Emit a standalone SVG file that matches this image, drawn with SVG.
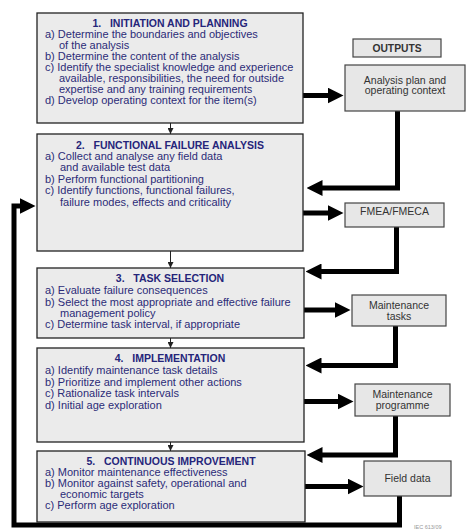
<svg xmlns="http://www.w3.org/2000/svg" width="466" height="529" viewBox="0 0 466 529">
<style>
.step{fill:#ebebeb;stroke:#222;stroke-width:1.3}
.out{fill:#e7e7e7;stroke:#444;stroke-width:1.2}
.hd{font-family:"Liberation Sans",Arial,sans-serif;font-size:10.5px;font-weight:bold;fill:#25257a;text-anchor:middle}
.tx{font-family:"Liberation Sans",Arial,sans-serif;font-size:11px;fill:#2b2b78}
.ot{font-family:"Liberation Sans",Arial,sans-serif;font-size:10.5px;fill:#333;text-anchor:middle}
.big{fill:none;stroke:#000;stroke-width:5;stroke-linejoin:miter}
.thin{fill:none;stroke:#222;stroke-width:1}
</style>
<defs>
<marker id="ah" markerUnits="userSpaceOnUse" markerWidth="16" markerHeight="16" viewBox="0 0 16 16" refX="0.5" refY="8" orient="auto">
<path d="M0,0 L16,8 L0,16 z" fill="#000"/>
</marker>
<marker id="sh" markerUnits="userSpaceOnUse" markerWidth="6" markerHeight="6" viewBox="0 0 6 6" refX="6" refY="3" orient="auto">
<path d="M0,0 L6,3 L0,6 z" fill="#222"/>
</marker>
</defs>

<g id="connectors">
<path class="thin" d="M170.5,123 V134" marker-end="url(#sh)"/>
<path class="thin" d="M170.5,251 V268" marker-end="url(#sh)"/>
<path class="thin" d="M170.5,338 V348" marker-end="url(#sh)"/>
<path class="thin" d="M170.5,442 V451" marker-end="url(#sh)"/>
<path class="big" d="M303,95.5 H328" marker-end="url(#ah)"/>
<path class="big" d="M397.5,111 V188 H322" marker-end="url(#ah)"/>
<path class="big" d="M303,213 H328" marker-end="url(#ah)"/>
<path class="big" d="M396.5,227 V271.5 H321" marker-end="url(#ah)"/>
<path class="big" d="M304,310 H335" marker-end="url(#ah)"/>
<path class="big" d="M395.5,326 V365.5 H321" marker-end="url(#ah)"/>
<path class="big" d="M304,401.5 H338" marker-end="url(#ah)"/>
<path class="big" d="M395.5,416 V455 H322" marker-end="url(#ah)"/>
<path class="big" d="M305,486.5 H348" marker-end="url(#ah)"/>
<path class="big" d="M399.5,496 V525 H14 V206 H20" marker-end="url(#ah)"/>
</g>

<g id="step1">
<rect class="step" x="37" y="13" width="266" height="110"/>
<text class="hd" x="170" y="27" xml:space="preserve">1.   INITIATION AND PLANNING</text>
<text class="tx" x="45" y="38">a) Determine the boundaries and objectives</text>
<text class="tx" x="59" y="48.5">of the analysis</text>
<text class="tx" x="45" y="60">b) Determine the content of the analysis</text>
<text class="tx" x="45" y="71">c) Identify the specialist knowledge and experience</text>
<text class="tx" x="59" y="82">available, responsibilities, the need for outside</text>
<text class="tx" x="59" y="93">expertise and any training requirements</text>
<text class="tx" x="45" y="104">d) Develop operating context for the item(s)</text>
</g>

<g id="step2">
<rect class="step" x="37" y="134" width="266" height="117"/>
<text class="hd" x="170" y="148.5" xml:space="preserve">2.   FUNCTIONAL FAILURE ANALYSIS</text>
<text class="tx" x="45" y="160">a) Collect and analyse any field data</text>
<text class="tx" x="60" y="170.5">and available test data</text>
<text class="tx" x="45" y="182.5">b) Perform functional partitioning</text>
<text class="tx" x="45" y="194">c) Identify functions, functional failures,</text>
<text class="tx" x="60" y="206">failure modes, effects and criticality</text>
</g>

<g id="step3">
<rect class="step" x="37" y="268" width="267" height="70"/>
<text class="hd" x="170" y="281.7" xml:space="preserve">3.   TASK SELECTION</text>
<text class="tx" x="45" y="294">a) Evaluate failure consequences</text>
<text class="tx" x="45" y="305.7">b) Select the most appropriate and effective failure</text>
<text class="tx" x="60" y="317.3">management policy</text>
<text class="tx" x="45" y="328.3">c) Determine task interval, if appropriate</text>
</g>

<g id="step4">
<rect class="step" x="37" y="348" width="267" height="94"/>
<text class="hd" x="170" y="362.3" xml:space="preserve">4.   IMPLEMENTATION</text>
<text class="tx" x="45" y="374">a) Identify maintenance task details</text>
<text class="tx" x="45" y="385.7">b) Prioritize and implement other actions</text>
<text class="tx" x="45" y="397.3">c) Rationalize task intervals</text>
<text class="tx" x="45" y="409.3">d) Initial age exploration</text>
</g>

<g id="step5">
<rect class="step" x="37" y="451" width="268" height="71"/>
<text class="hd" x="171" y="464.5" xml:space="preserve">5.   CONTINUOUS IMPROVEMENT</text>
<text class="tx" x="45" y="476">a) Monitor maintenance effectiveness</text>
<text class="tx" x="45" y="487">b) Monitor against safety, operational and</text>
<text class="tx" x="60" y="498">economic targets</text>
<text class="tx" x="45" y="509">c) Perform age exploration</text>
</g>

<g id="outputs-label">
<rect class="out" x="353" y="39" width="88" height="18" fill="#ececec"/>
<text class="hd" x="397" y="52" style="fill:#333;font-size:10.3px">OUTPUTS</text>
</g>

<g id="out-analysis-plan">
<rect class="out" x="345" y="65" width="120" height="46"/>
<text class="ot" x="405" y="83.5">Analysis plan and</text>
<text class="ot" x="405" y="94">operating context</text>
</g>

<g id="out-fmea">
<rect class="out" x="345" y="203" width="99" height="24"/>
<text class="ot" x="394.5" y="215">FMEA/FMECA</text>
</g>

<g id="out-tasks">
<rect class="out" x="352" y="295" width="94" height="31"/>
<text class="ot" x="399" y="308.5">Maintenance</text>
<text class="ot" x="399" y="319.5">tasks</text>
</g>

<g id="out-programme">
<rect class="out" x="355" y="384" width="95" height="32"/>
<text class="ot" x="402.5" y="398">Maintenance</text>
<text class="ot" x="402.5" y="409">programme</text>
</g>

<g id="out-field-data">
<rect class="out" x="364" y="461" width="87" height="35"/>
<text class="ot" x="407.5" y="481.5">Field data</text>
</g>

<text x="414" y="529" style="font-family:'Liberation Sans',Arial,sans-serif;font-size:5.5px;fill:#999">IEC  613/09</text>
</svg>
